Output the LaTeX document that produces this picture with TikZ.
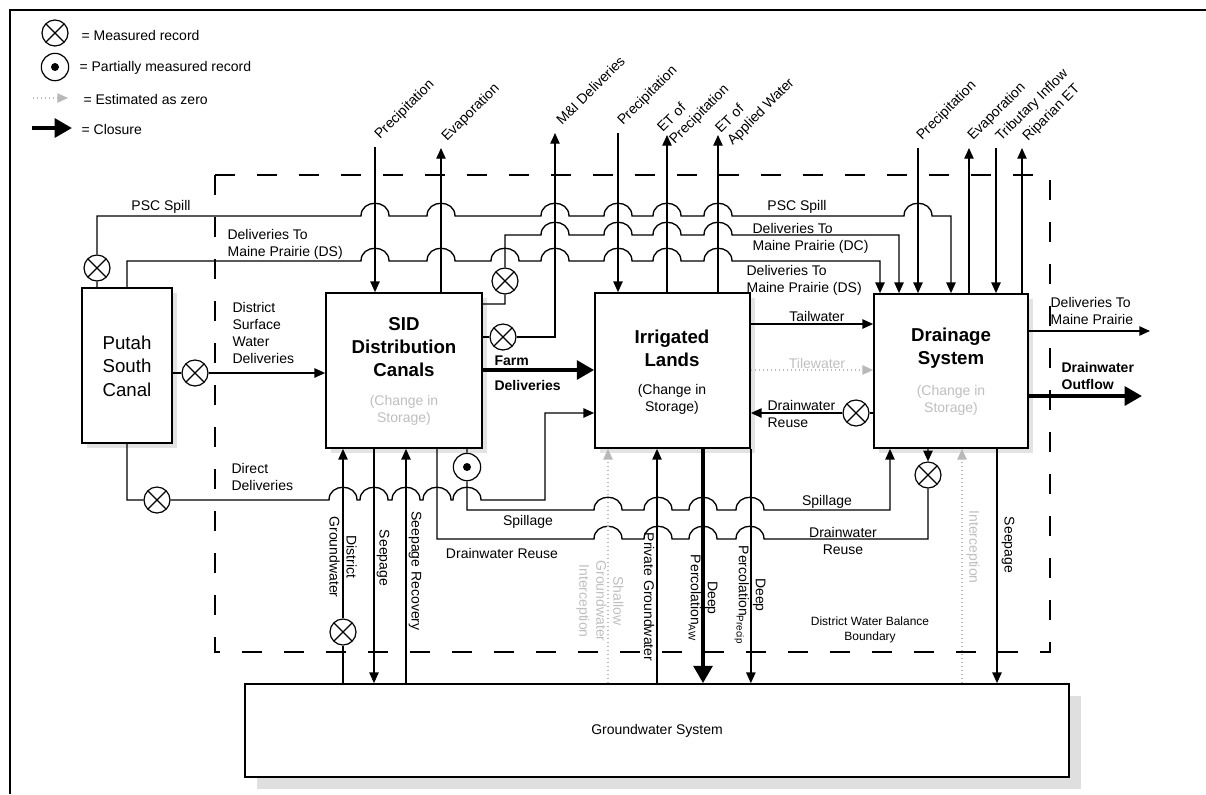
\documentclass[tikz,border=0pt]{standalone}
\usepackage{fontspec}
\setmainfont{Liberation Sans}
\usetikzlibrary{arrows.meta}
\newcommand{\hopR}[2]{-- ({#1-14},#2) .. controls ({#1-14},{#2-17}) and ({#1+14},{#2-17}) .. ({#1+14},#2)}
\tikzset{
  ln/.style={line width=1pt},
  arr/.style={ln,-{Triangle[length=8pt,width=7pt]}},
  rarr/.style={ln,{Triangle[length=8pt,width=7pt]}-},
  thk/.style={line width=3pt,-{Triangle[length=13pt,width=14pt]}},
  zero/.style={gray!55,dotted,line width=1pt,-{Triangle[length=8pt,width=7pt]}},
  meas/.style={circle,draw,line width=0.9pt,minimum size=19.5pt,inner sep=0pt,fill=white,
    path picture={\draw[black,line width=0.9pt] (path picture bounding box.north west) -- (path picture bounding box.south east)
      (path picture bounding box.north east) -- (path picture bounding box.south west);}},
  part/.style={circle,draw,line width=0.9pt,minimum size=20.5pt,inner sep=0pt,fill=white,
    path picture={\fill[black] (path picture bounding box.center) circle (3pt);}},
  blk/.style={draw,line width=1.3pt,fill=white,inner sep=0pt},
  shd/.style={fill=gray!22},
  lbl/.style={font=\fontsize{10.5}{12.75}\selectfont,inner sep=1pt},
  lblb/.style={font=\fontsize{10.5}{12.75}\selectfont\bfseries,inner sep=1pt},
  smalllbl/.style={font=\fontsize{9}{11.5}\selectfont,inner sep=1pt},
  ttl/.style={font=\fontsize{14}{17.5}\selectfont,align=center,inner sep=0pt},
  ttlb/.style={font=\fontsize{14}{17.5}\selectfont\bfseries,align=center,inner sep=0pt},
  gry/.style={text=gray!50},
  up45/.style={lbl,rotate=45,anchor=base west},
  up45two/.style={lbl,rotate=45,anchor=south west,align=left},
  vert/.style={lbl,rotate=-90,align=center},
  bnd/.style={line width=1.1pt,dash pattern=on 15pt off 16.5pt}
}
\begin{document}
\begin{tikzpicture}[x=0.75pt,y=-0.75pt]
\useasboundingbox (0,0) rectangle (1206,794);
% frame
\draw[line width=2pt] (10,794) -- (10,10) -- (1206,10);
% boundary
\draw[bnd] (215,175) rectangle (1050,652);
\node[smalllbl,align=center] (bndl) at (870,630) {District Water Balance\\Boundary};

% legend
\node[meas] (lg1) at (55,33) {};
\node[lbl,anchor=west] (lgt1) at (80,35) {= Measured record};
\node[part] (lg2) at (55,67) {};
\node[lbl,anchor=west] (lgt2) at (78,68) {= Partially measured record};
\coordinate (lg3a) at (33,98); \coordinate (lg3b) at (68,98);
\draw[zero] (lg3a) -- (lg3b);
\node[lbl,anchor=west] (lgt3) at (82,99) {= Estimated as zero};
\coordinate (lg4a) at (32,128); \coordinate (lg4b) at (72,128);
\draw[thk] (lg4a) -- (lg4b);
\node[lbl,anchor=west] (lgt4) at (80,129) {= Closure};

% shadows
\fill[shd] (87,293) rectangle (177,448);
\fill[shd] (331,298) rectangle (487,453);
\fill[shd] (600,298) rectangle (755,453);
\fill[shd] (879,299) rectangle (1033,453);
\fill[gray!25] (257,696) rectangle (1081,789);
% boxes
\node[blk,minimum width=67.5pt,minimum height=116.25pt] (psc) at (127,365.5) {};
\node[blk,minimum width=117pt,minimum height=116.25pt] (sid) at (404,370.5) {};
\node[blk,minimum width=116.25pt,minimum height=116.25pt] (irr) at (672.5,370.5) {};
\node[blk,minimum width=115.5pt,minimum height=115.5pt] (drn) at (951,371) {};
\node[blk,minimum width=618pt,minimum height=69.75pt] (gw) at (657,730.5) {};
\node[ttl] (psct) at (127,366) {Putah\\South\\Canal};
\node[ttlb] (sidt) at (404,347) {SID\\Distribution\\Canals};
\node[lbl,gry,align=center] (sids) at (404,410) {(Change in\\Storage)};
\node[ttlb] (irrt) at (672,348) {Irrigated\\Lands};
\node[lbl,align=center] (irrs) at (672,399) {(Change in\\Storage)};
\node[ttlb] (drnt) at (951,348) {Drainage\\System};
\node[lbl,gry,align=center] (drns) at (951,400) {(Change in\\Storage)};
\node[font=\fontsize{10.5}{12}\selectfont] (gwt) at (657,731) {Groundwater System};

% measurement symbols
\node[meas] (mpsc) at (97,268) {};
\node[meas] (mdsw) at (195,373) {};
\node[meas] (mdd) at (157,500) {};
\node[meas] (mdc) at (505,281) {};
\node[meas] (mmi) at (503,337) {};
\node[meas] (mdr) at (856,413) {};
\node[meas] (mdr2) at (928,475) {};
\node[meas] (mdg) at (343,632) {};
\node[part] (psp) at (467,467) {};

% free ends
\coordinate (tp1) at (375,147);
\coordinate (tp2) at (441,148);
\coordinate (tp3) at (555,133);
\coordinate (tp4) at (618,133);
\coordinate (tp5) at (667,135);
\coordinate (tp6) at (718,135);
\coordinate (tp7) at (918,148);
\coordinate (tp8) at (969,148);
\coordinate (tp9) at (996,148);
\coordinate (tp10) at (1022,148);
\coordinate (out1) at (1150,331);
\coordinate (out2) at (1142,396);

% top verticals
\draw[arr] (tp1) -- (sid.north -| tp1);
\draw[arr] (sid.north -| tp2) -- (tp2);
\draw[arr] (tp4) -- (irr.north -| tp4);
\draw[arr] (irr.north -| tp5) -- (tp5);
\draw[arr] (irr.north -| tp6) -- (tp6);
\draw[arr] (tp7) -- (drn.north -| tp7);
\draw[arr] (drn.north -| tp8) -- (tp8);
\draw[arr] (tp9) -- (drn.north -| tp9);
\draw[arr] (drn.north -| tp10) -- (tp10);
\draw[arr] (sid.east |- mmi) -- (mmi) -- (555,337) -- (tp3);

% top rows
\draw[arr] (psc.north -| mpsc) -- (mpsc) -- (97,216) \hopR{375}{216} \hopR{441}{216} \hopR{555}{216} \hopR{618}{216} \hopR{667}{216} \hopR{718}{216} \hopR{918}{216} -- (951,216) -- (drn.north -| 951,0);
\draw[arr] (psc.north) -- (127,261) \hopR{375}{261} \hopR{441}{261} \hopR{505}{261} \hopR{555}{261} \hopR{618}{261} \hopR{667}{261} \hopR{718}{261} -- (880,261) -- (drn.north -| 880,0);
\draw[arr] (sid.east |- 0,304) -- (505,304) -- (mdc) -- (505,235) \hopR{555}{235} \hopR{618}{235} \hopR{667}{235} \hopR{718}{235} -- (899,235) -- (drn.north -| 899,0);

% middle
\draw[arr] (psc.east |- mdsw) -- (mdsw) -- (sid.west |- mdsw);
\draw[thk] (sid.east |- 0,370) -- (irr.west |- 0,370);
\draw[arr] (irr.east |- 0,324) -- (drn.west |- 0,324);
\draw[zero] (irr.east |- 0,370) -- (drn.west |- 0,370);
\draw[arr] (drn.west |- mdr) -- (mdr) -- (irr.east |- mdr);
\draw[arr] (drn.east |- out1) -- (out1);
\draw[thk] (drn.east |- out2) -- (out2);

% lower rows
\draw[arr] (psc.south) -- (127,500) -- (mdd) \hopR{343}{500} \hopR{374}{500} \hopR{406}{500} \hopR{437}{500} \hopR{467}{500} -- (545,500) -- (545,413) -- (irr.west |- 0,413);
\draw[arr] (sid.south -| psp) -- (psp) -- (467,510) \hopR{608}{510} \hopR{658}{510} \hopR{703}{510} \hopR{750}{510} -- (890,510) -- (drn.south -| 890,0);
\draw[rarr] (sid.south -| 437,0) -- (437,539) \hopR{608}{539} \hopR{658}{539} \hopR{703}{539} \hopR{750}{539} -- (928,539) -- (mdr2) -- (drn.south -| mdr2);

% bottom verticals
\draw[arr] (gw.north -| mdg) -- (mdg) -- (sid.south -| mdg);
\draw[arr] (sid.south -| 374,0) -- (gw.north -| 374,0);
\draw[arr] (gw.north -| 406,0) -- (sid.south -| 406,0);
\draw[zero] (gw.north -| 608,0) -- (irr.south -| 608,0);
\draw[arr] (gw.north -| 657,0) -- (irr.south -| 657,0);
\draw[thk] (irr.south -| 703,0) -- (gw.north -| 703,0);
\draw[arr] (irr.south east) -- (gw.north -| irr.south east);
\draw[zero] (gw.north -| 962,0) -- (drn.south -| 962,0);
\draw[arr] (drn.south -| 997,0) -- (gw.north -| 997,0);

% top labels
\node[up45] (l1) at (379,141) {Precipitation};
\node[up45] (l2) at (446,143) {Evaporation};
\node[up45] (l3) at (561,127) {M\&I Deliveries};
\node[up45] (l4) at (622,127) {Precipitation};
\node[up45two] (l5) at (677,149) {ET of\\Precipitation};
\node[up45two] (l6) at (735,150) {ET of\\Applied Water};
\node[up45] (l7) at (921,142) {Precipitation};
\node[up45] (l8) at (972,142) {Evaporation};
\node[up45] (l9) at (1000,143) {Tributary Inflow};
\node[up45] (l10) at (1027,143) {Riparian ET};

% row labels
\node[lbl,anchor=south] (t1) at (161,215) {PSC Spill};
\node[lbl,anchor=south] (t2) at (797,215) {PSC Spill};
\node[lbl,anchor=west,align=left] (t3) at (226,244) {Deliveries To\\Maine Prairie (DS)};
\node[lbl,anchor=west,align=left] (t4) at (751,238) {Deliveries To\\Maine Prairie (DC)};
\node[lbl,anchor=west,align=left] (t5) at (745,280) {Deliveries To\\Maine Prairie (DS)};
\node[lbl,anchor=west,align=left] (t6) at (231,333) {District\\Surface\\Water\\Deliveries};
\node[lbl,anchor=west,align=left] (t7) at (230,477) {Direct\\Deliveries};
\node[lblb,anchor=west] (t8) at (493,361) {Farm};
\node[lblb,anchor=west] (t9) at (493,385) {Deliveries};
\node[lbl] (t10) at (817,316) {Tailwater};
\node[lbl,gry] (t11) at (817,363) {Tilewater};
\node[lbl,anchor=west,align=left] (t12) at (766,414) {Drainwater\\Reuse};
\node[lbl,anchor=west,align=left] (t13) at (1049,311) {Deliveries To\\Maine Prairie};
\node[lblb,anchor=west,align=left] (t14) at (1060,376) {Drainwater\\Outflow};
\node[lbl] (t15) at (528,522) {Spillage};
\node[lbl] (t16) at (502,553) {Drainwater Reuse};
\node[lbl] (t17) at (827,502) {Spillage};
\node[lbl,align=center] (t18) at (843,541) {Drainwater\\Reuse};

% vertical labels
\node[vert] (v1) at (343,557) {District\\Groundwater};
\node[vert] (v2) at (383,558) {Seepage};
\node[vert] (v3) at (415,571) {Seepage Recovery};
\node[vert,gry] (v4) at (600,601) {Shallow\\Groundwater\\Interception};
\node[vert] (v5) at (649,597) {Private Groundwater};
\node[vert] (v6) at (703,598) {Deep\\Percolation\textsubscript{AW}};
\node[vert] (v7) at (750,595) {Deep\\Percolation\textsubscript{Precip}};
\node[vert,gry] (v8) at (973,547) {Interception};
\node[vert] (v9) at (1008,545) {Seepage};
\end{tikzpicture}
\end{document}
